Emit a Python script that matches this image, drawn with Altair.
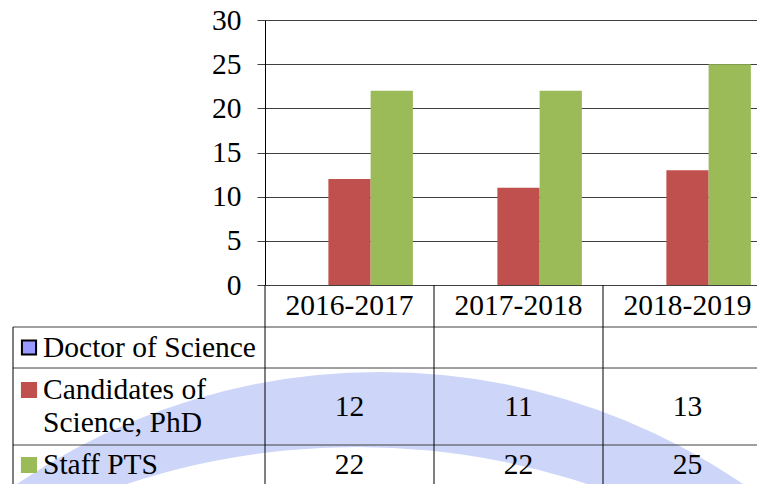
import altair as alt
import pandas as pd

# ---------------- data ----------------
CATEGORIES = ["2016-2017", "2017-2018", "2018-2019"]
SERIES = ["Doctor of Science", "Candidates of Science, PhD", "Staff PTS"]
ROW_LABELS = ["Doctor of Science", "Candidates of\nScience, PhD", "Staff PTS"]
DOCTOR_OF_SCIENCE = [None, None, None]
CANDIDATES_PHD = [12, 11, 13]
STAFF_PTS = [22, 22, 25]
Y_TICKS = [0, 5, 10, 15, 20, 25, 30]
COLORS = ["#9999FF", "#C0504D", "#9BBB59"]
STROKES = ["#000000", "#C0504D", "#9BBB59"]

# ---------------- layout / style ----------------
W, H = 492, 464
BAND_RANGE = 507                  # the last column runs past the picture's right edge
PLOT_H = 265
ROW_H = [42, 41, 77, 40]          # header row + three data rows
LABEL_COL = 252
LINE_H = 33
FONT = "Liberation Serif, Times New Roman, Times, serif"
FS = 29.5
GRID = "#404040"
WATERMARK = "#CDD6F8"

values_by_series = [DOCTOR_OF_SCIENCE, CANDIDATES_PHD, STAFF_PTS]

tops = [0]
for h in ROW_H:
    tops.append(tops[-1] + h)
TOTAL = tops[-1]

bars_df = pd.DataFrame(
    [{"category": c, "series": s, "value": v}
     for s, vals in zip(SERIES, values_by_series)
     for c, v in zip(CATEGORIES, vals)]
).dropna()

rows = []
for i, (s, lab) in enumerate(zip(SERIES, ROW_LABELS)):
    top, bot = tops[i + 1], tops[i + 2]
    mid = (top + bot) / 2
    n = lab.count("\n") + 1
    rows.append({"series": s, "label": lab, "mid": mid,
                 "first": mid - (n - 1) * LINE_H / 2})
rows_df = pd.DataFrame(rows)

cells = []
for i, (s, vals) in enumerate(zip(SERIES, values_by_series)):
    mid = (tops[i + 1] + tops[i + 2]) / 2
    for c, v in zip(CATEGORIES, vals):
        if v is not None:
            cells.append({"category": c, "mid": mid, "text": str(v)})
cells_df = pd.DataFrame(cells)

header_df = pd.DataFrame({"category": CATEGORIES, "mid": [ROW_H[0] / 2] * 3})
hlines_df = pd.DataFrame({"y": tops[1:4]})
vlines_df = pd.DataFrame({"category": CATEGORIES, "y0": [0] * 3, "y1": [TOTAL] * 3})
left_df = pd.DataFrame({"y0": [tops[1]], "y1": [TOTAL]})
one = pd.DataFrame({"k": [0]})

xscale = alt.Scale(domain=CATEGORIES, range=[0, BAND_RANGE], paddingInner=0, paddingOuter=0)
tscale = alt.Scale(domain=[0, TOTAL], range=[PLOT_H, PLOT_H + TOTAL], nice=False, zero=False)
cscale = alt.Scale(domain=SERIES, range=COLORS)

# watermark (decoration)
disc_blue = alt.Chart(one).mark_arc(radius=644, theta=0, theta2=6.2832, color=WATERMARK).encode(
    x=alt.value(115), y=alt.value(996))
disc_white = alt.Chart(one).mark_arc(radius=733, theta=0, theta2=6.2832, color="white").encode(
    x=alt.value(92), y=alt.value(1160))

bars = alt.Chart(bars_df).mark_bar().encode(
    x=alt.X("category:N", scale=xscale, axis=None),
    xOffset=alt.XOffset("series:N", scale=alt.Scale(domain=SERIES, paddingInner=0, paddingOuter=0.5)),
    y=alt.Y("value:Q",
            scale=alt.Scale(domain=[0, 30], range=[PLOT_H, 0], nice=False),
            axis=alt.Axis(values=Y_TICKS, title=None, grid=True, gridColor=GRID,
                          gridOpacity=1, tickColor=GRID, tickSize=8, domainColor="black",
                          labelFont=FONT, labelFontSize=FS, labelColor="black",
                          labelPadding=16)),
    color=alt.Color("series:N", scale=cscale, legend=None),
)

hlines = alt.Chart(hlines_df).mark_rule(color=GRID, strokeWidth=1).encode(
    y=alt.Y("y:Q", scale=tscale, axis=None),
    x=alt.value(-LABEL_COL), x2=alt.value(BAND_RANGE))

vlines = alt.Chart(vlines_df).mark_rule(color="black", strokeWidth=1).encode(
    x=alt.X("category:N", scale=xscale, bandPosition=0, axis=None),
    y=alt.Y("y0:Q", scale=tscale, axis=None), y2="y1:Q")

left_line = alt.Chart(left_df).mark_rule(color="black", strokeWidth=1).encode(
    x=alt.value(-LABEL_COL),
    y=alt.Y("y0:Q", scale=tscale, axis=None), y2="y1:Q")

header = alt.Chart(header_df).mark_text(font=FONT, fontSize=FS, color="black", baseline="middle").encode(
    x=alt.X("category:N", scale=xscale, axis=None),
    y=alt.Y("mid:Q", scale=tscale, axis=None),
    text="category:N")

cell_text = alt.Chart(cells_df).mark_text(font=FONT, fontSize=FS, color="black", baseline="middle").encode(
    x=alt.X("category:N", scale=xscale, axis=None),
    y=alt.Y("mid:Q", scale=tscale, axis=None),
    text="text:N")

row_text = alt.Chart(rows_df).mark_text(font=FONT, fontSize=FS, color="black", align="left",
                                        baseline="middle", lineBreak="\n", lineHeight=LINE_H).encode(
    x=alt.value(-LABEL_COL + 30),
    y=alt.Y("first:Q", scale=tscale, axis=None),
    text="label:N")

swatches = alt.Chart(rows_df).mark_square(size=200, opacity=1, filled=True, strokeWidth=2).encode(
    x=alt.value(-LABEL_COL + 16),
    y=alt.Y("first:Q", scale=tscale, axis=None),
    color=alt.Color("series:N", scale=cscale, legend=None),
    stroke=alt.Stroke("series:N", scale=alt.Scale(domain=SERIES, range=STROKES), legend=None))

chart = alt.layer(
    disc_blue, disc_white, bars, hlines, vlines, left_line, header, cell_text, row_text, swatches
).resolve_scale(y="independent").properties(
    width=W, height=H,
    autosize=alt.AutoSizeParams(type="none"),
    padding={"left": 257, "top": 12, "right": 0, "bottom": 0},
    background="white",
).configure_view(stroke=None)

chart.save("out.html", embed_options={"renderer": "svg", "actions": False})
